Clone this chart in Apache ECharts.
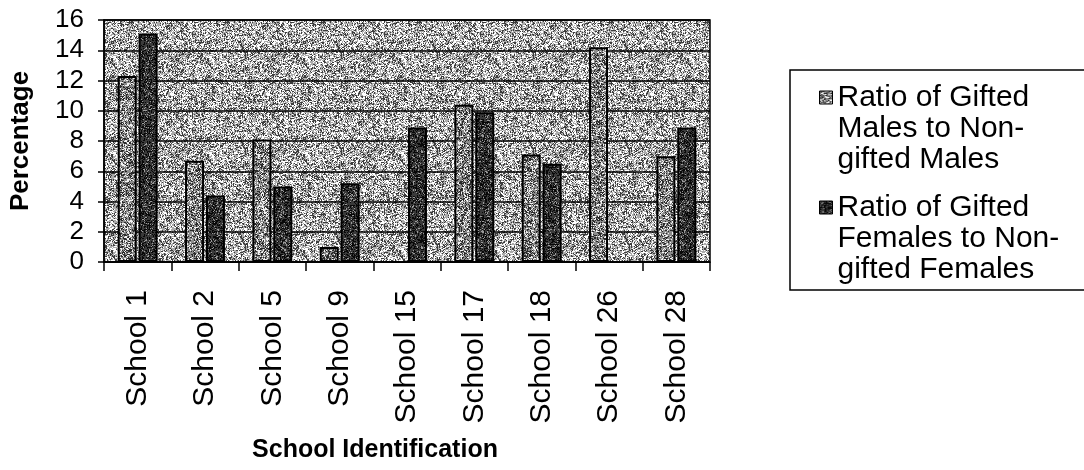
<!DOCTYPE html>
<html>
<head>
<meta charset="utf-8">
<title>Gifted ratio by school</title>
<script src="https://cdn.jsdelivr.net/npm/echarts@6/dist/echarts.min.js"></script>
<style>
  html, body { margin: 0; padding: 0; background: #fff; }
  #chart { width: 1084px; height: 470px; }
</style>
</head>
<body>
<div id="chart"></div>
<script>
// School categories along the x axis
const schools = ['School 1', 'School 2', 'School 5', 'School 9', 'School 15',
                 'School 17', 'School 18', 'School 26', 'School 28'];

// Percentages per school
const maleRatio   = [12.3, 6.7, 8.1, 1.0, 0, 10.4, 7.1, 14.2, 7.0];
const femaleRatio = [15.1, 4.4, 5.0, 5.2, 8.9, 9.9, 6.5, 0, 8.9];

// Y axis range and step
const yMin = 0, yMax = 16, yStep = 2;

const maleName = 'Ratio of Gifted Males to Non-gifted Males';
const femaleName = 'Ratio of Gifted Females to Non-gifted Females';
// Two leading blank lines keep the swatch level with the first text line
const legendLines = {
  [maleName]: '\n\nRatio of Gifted\nMales to Non-\ngifted Males',
  [femaleName]: '\n\nRatio of Gifted\nFemales to Non-\ngifted Females'
};

// Speckled halftone fills, built from a deterministic hash
function hash(x, y, s) {
  let h = Math.imul(x, 374761393) + Math.imul(y, 668265263) + Math.imul(s, 1442695041);
  h = Math.imul(h ^ (h >>> 13), 1274126177);
  h = h ^ (h >>> 16);
  return (h >>> 0) / 4294967296;
}
function speckle(base, dark, light, pDark, pLight, seed) {
  const size = 96;
  const c = document.createElement('canvas');
  c.width = size; c.height = size;
  const g = c.getContext('2d');
  g.fillStyle = base;
  g.fillRect(0, 0, size, size);
  for (let y = 0; y < size; y++) {
    for (let x = 0; x < size; x++) {
      const clump = hash(x >> 2, y >> 2, seed + 7);
      const r = hash(x, y, seed);
      if (r < pDark * (0.5 + clump)) { g.fillStyle = dark; g.fillRect(x, y, 1, 1); }
      else if (r > 1 - pLight * (1.5 - clump)) { g.fillStyle = light; g.fillRect(x, y, 1, 1); }
    }
  }
  return { image: c, repeat: 'repeat' };
}

const plotFill   = speckle('#ababab', '#3c3c3c', '#ffffff', 0.28, 0.32, 11);
const maleFill   = speckle('#8c8c8c', '#2a2a2a', '#f2f2f2', 0.30, 0.22, 23);
const femaleFill = speckle('#3a3a3a', '#080808', '#9a9a9a', 0.35, 0.12, 37);

const font = '"Liberation Sans", Arial, sans-serif';

const chart = echarts.init(document.getElementById('chart'), null, { renderer: 'canvas' });

chart.setOption({
  animation: false,
  backgroundColor: '#fff',
  grid: {
    left: 104, right: 374, top: 20, bottom: 208,
    containLabel: false,
    outerBoundsMode: 'none',
    show: true,
    backgroundColor: plotFill,
    borderColor: '#000',
    borderWidth: 1.5
  },
  legend: {
    orient: 'vertical',
    left: 819, top: 20,
    padding: 0,
    itemGap: -45,
    itemWidth: 13, itemHeight: 13,
    icon: 'rect',
    data: [maleName, femaleName],
    formatter: name => legendLines[name],
    itemStyle: { borderColor: '#000', borderWidth: 1 },
    textStyle: {
      fontFamily: font, fontSize: 30, lineHeight: 31, color: '#000'
    }
  },
  graphic: [{
    type: 'rect',
    shape: { x: 790, y: 70, width: 330, height: 220 },
    style: { fill: 'none', stroke: '#000', lineWidth: 1.5 },
    z: -1
  }],
  xAxis: {
    type: 'category',
    data: schools,
    name: 'School Identification',
    nameLocation: 'middle',
    nameGap: 176,
    nameTextStyle: {
      fontFamily: font, fontSize: 25, fontWeight: 'bold', color: '#000',
      padding: [0, 64, 0, 0]
    },
    axisLine: { lineStyle: { color: '#000', width: 1.5 } },
    axisTick: { show: true, length: 9, lineStyle: { color: '#000', width: 1.5 } },
    axisLabel: {
      rotate: 90, margin: 28, interval: 0,
      fontFamily: font, fontSize: 30, color: '#000'
    }
  },
  yAxis: {
    type: 'value',
    min: yMin, max: yMax, interval: yStep,
    name: 'Percentage',
    nameLocation: 'middle',
    nameGap: 70,
    nameTextStyle: { fontFamily: font, fontSize: 26, fontWeight: 'bold', color: '#000' },
    axisLine: { show: true, lineStyle: { color: '#000', width: 1.5 } },
    axisTick: { show: true, length: 6, lineStyle: { color: '#000', width: 1.5 } },
    axisLabel: { margin: 20, fontFamily: font, fontSize: 26, color: '#000' },
    splitLine: { show: true, lineStyle: { color: '#000', width: 1.5 } }
  },
  series: [
    {
      name: maleName,
      type: 'bar',
      data: maleRatio,
      barWidth: 19,
      barGap: '10%',
      itemStyle: { color: maleFill, borderColor: '#000', borderWidth: 2 }
    },
    {
      name: femaleName,
      type: 'bar',
      data: femaleRatio,
      barWidth: 19,
      itemStyle: { color: femaleFill, borderColor: '#000', borderWidth: 2 }
    }
  ]
});
</script>
</body>
</html>
